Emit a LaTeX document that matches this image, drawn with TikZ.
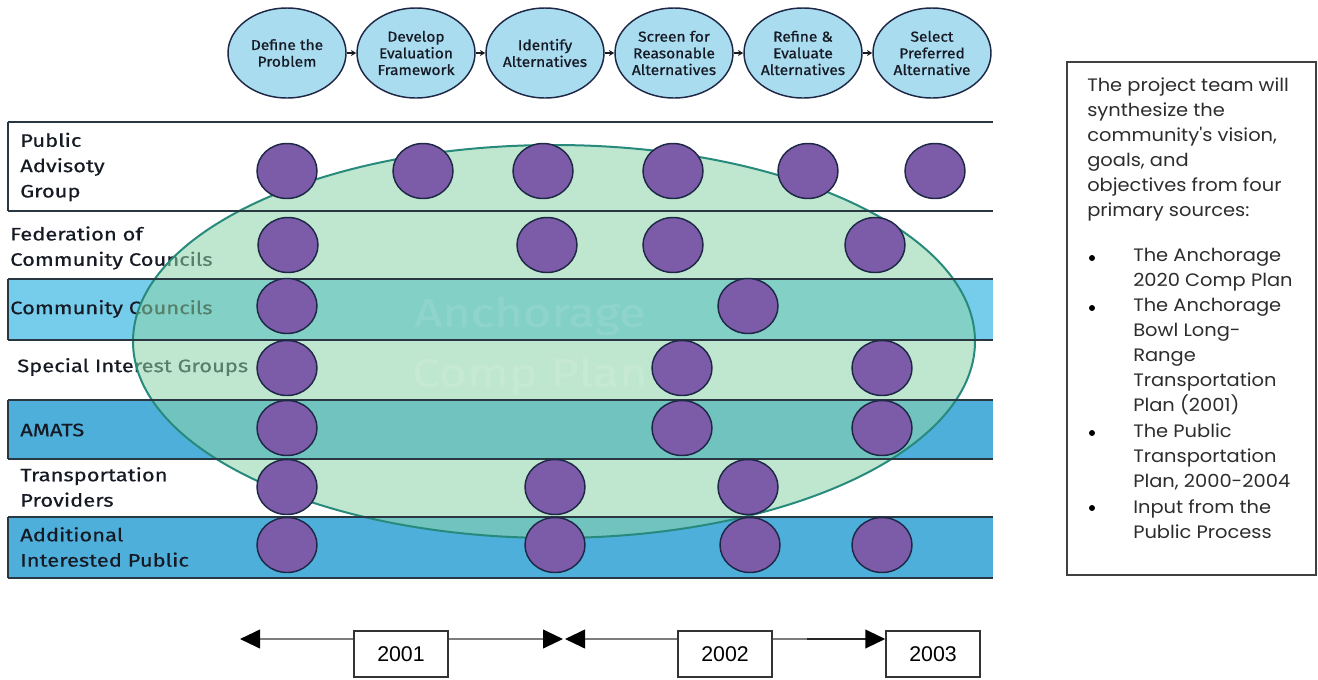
\documentclass[tikz,border=0pt]{standalone}
\usepackage{fontspec}
\setmainfont{Fira Sans}
\newfontfamily\labelfont[FakeStretch=1.22,FakeBold=0.5]{Fira Sans}
\newfontfamily\stepfont[FakeStretch=1.08,FakeBold=0.8]{Fira Sans}
\newfontfamily\gothic[FakeStretch=1.08]{Poppins}
\newfontfamily\arialfont{Liberation Sans}
\usetikzlibrary{arrows.meta,shapes.geometric}
\definecolor{stepfill}{RGB}{170,220,240}
\definecolor{bandlight}{RGB}{118,204,235}
\definecolor{banddark}{RGB}{78,176,218}
\definecolor{planfill}{RGB}{140,212,168}
\definecolor{planline}{RGB}{40,138,124}
\definecolor{dotfill}{RGB}{124,92,168}
\definecolor{dotline}{RGB}{30,40,70}
\definecolor{rowline}{RGB}{40,55,65}
\definecolor{textdark}{RGB}{22,26,36}
\definecolor{notetext}{RGB}{45,45,45}
\definecolor{tlgray}{RGB}{125,125,125}
\begin{document}
\begin{tikzpicture}[x=0.75pt,y=-0.75pt,
  stepnode/.style={ellipse, draw=dotline, line width=1.1pt, fill=stepfill,
    minimum width=88.5pt, minimum height=67.5pt, inner sep=0pt, align=center,
    font=\stepfont\fontsize{10.8}{12.5}\selectfont, text=textdark},
  stepcap/.style={inner sep=0pt, align=center, text=textdark,
    font=\stepfont\fontsize{10.8}{12.5}\selectfont},
  steparrow/.style={-{Stealth[length=4pt,width=4.5pt]}, line width=0.9pt, draw=textdark},
  dot/.style={ellipse, draw=dotline, line width=1.1pt, fill=dotfill,
    minimum width=45pt, minimum height=41.25pt, inner sep=0pt},
  rowlabel/.style={anchor=west, align=left, inner sep=0pt, text=textdark,
    font=\labelfont\fontsize{13.5}{19}\selectfont},
  rowrule/.style={draw=rowline, line width=1.1pt},
  notebody/.style={anchor=west, align=left, inner sep=0pt, text=notetext,
    font=\gothic\fontsize{13.5}{18.75}\selectfont},
  bulletdot/.style={circle, fill=black, inner sep=0pt, minimum size=4.5pt},
  yearbox/.style={draw=black!80, line width=1.1pt, fill=white, minimum width=70.5pt,
    minimum height=34.5pt, inner sep=0pt, font=\arialfont\fontsize{16}{16}\selectfont},
  tline/.style={draw=tlgray, line width=1.5pt},
  tip/.style={-{Triangle[length=15pt,width=14pt,color=black]}}
]
\useasboundingbox (0,0) rectangle (1318,679);
\fill[white] (0,0) rectangle (1318,679);

% bands
\fill[bandlight] (8,279) rectangle (993,340);
\fill[banddark] (8,400) rectangle (993,459);
\fill[banddark] (8,517) rectangle (993,578);

% row labels
\node[rowlabel] (l1) at (20,167) {Public\\Advisoty\\Group};
\node[rowlabel] (l2) at (10,248) {Federation of\\Community Councils};
\node[rowlabel] (l3) at (10,309) {Community Councils};
\node[rowlabel] (l4) at (17,367) {Special Interest Groups};
\node[rowlabel] (l5) at (20,430) {AMATS};
\node[rowlabel] (l6) at (20,487) {Transportation\\Providers};
\node[rowlabel] (l7) at (20,547) {Additional\\Interested Public};

% big plan ellipse
\node[ellipse, draw=planline, line width=1.5pt, fill=planfill, fill opacity=0.55,
  minimum width=631.5pt, minimum height=294.75pt, inner sep=0pt] (plan) at (554,341.5) {};
\node[text=white, opacity=0.1, font=\labelfont\fontsize{30}{30}\selectfont] (pt1) at (530,316) {Anchorage};
\node[text=white, opacity=0.1, font=\labelfont\fontsize{30}{30}\selectfont] (pt2) at (530,376) {Comp Plan};

% row rules
\foreach \yy in {122,211,279,340,400,459,517,578}
  \draw[rowrule] (8,\yy) -- (993,\yy);
\draw[rowrule] (8,122) -- (8,211);
\draw[rowrule] (8,279) -- (8,340);
\draw[rowrule] (8,400) -- (8,459);
\draw[rowrule] (8,517) -- (8,578);

% steps (fixed-size ellipses, captions placed on top)
\foreach \xx [count=\i] in {287,416,545,674,803,932}
  \node[stepnode] (s\i) at (\xx,53) {};
\node[stepcap] (c1) at (s1) {Define the\\Problem};
\node[stepcap] (c2) at (s2) {Develop\\Evaluation\\Framework};
\node[stepcap] (c3) at (s3) {Identify\\Alternatives};
\node[stepcap] (c4) at (s4) {Screen for\\Reasonable\\Alternatives};
\node[stepcap] (c5) at (s5) {Refine \&\\Evaluate\\Alternatives};
\node[stepcap] (c6) at (s6) {Select\\Preferred\\Alternative};
\draw[steparrow] (s1) -- (s2);
\draw[steparrow] (s2) -- (s3);
\draw[steparrow] (s3) -- (s4);
\draw[steparrow] (s4) -- (s5);
\draw[steparrow] (s5) -- (s6);

% participation dots
\foreach \xx [count=\i] in {287,423,543,673,808,935} \node[dot] (da\i) at (\xx,171) {};
\foreach \xx [count=\i] in {288,547,673,875} \node[dot] (db\i) at (\xx,245) {};
\foreach \xx [count=\i] in {287,748} \node[dot] (dc\i) at (\xx,306) {};
\foreach \xx [count=\i] in {287,682,882} \node[dot] (dd\i) at (\xx,368) {};
\foreach \xx [count=\i] in {287,682,882} \node[dot] (de\i) at (\xx,428) {};
\foreach \xx [count=\i] in {287,555,748} \node[dot] (df\i) at (\xx,487) {};
\foreach \xx [count=\i] in {287,555,750,882} \node[dot] (dg\i) at (\xx,545) {};

% note box
\node[draw=black!75, line width=1.3pt, minimum width=186.75pt, minimum height=384.75pt,
  inner sep=0pt] (note) at (1191.5,318.5) {};
\node[notebody] (n0) at (1087,149.5) {The project team will\\synthesize the\\community's vision,\\goals, and\\objectives from four\\primary sources:};
\node[notebody] (n1) at (1133,269.5) {The Anchorage\\2020 Comp Plan};
\node[notebody] (n2) at (1133,357) {The Anchorage\\Bowl Long-\\Range\\Transportation\\Plan (2001)};
\node[notebody] (n3) at (1133,457) {The Public\\Transportation\\Plan, 2000-2004};
\node[notebody] (n4) at (1133,519.5) {Input from the\\Public Process};
\node[bulletdot] (b1) at (1092,258) {};
\node[bulletdot] (b2) at (1092,308) {};
\node[bulletdot] (b3) at (1092,433) {};
\node[bulletdot] (b4) at (1092,508) {};

% timeline
\node[yearbox] (y1) at (401,654) {2001};
\node[yearbox] (y2) at (725,654) {2002};
\node[yearbox] (y3) at (933,654) {2003};
\coordinate (tl) at (240,639);
\coordinate (m1) at (563,639);
\coordinate (m2) at (565,639);
\coordinate (brk) at (807,639);
\draw[tline, tip] (y1.west |- tl) -- (tl);
\draw[tline, tip] (y1.east |- m1) -- (m1);
\draw[tline, tip] (y2.west |- m2) -- (m2);
\draw[draw=tlgray, line width=0.9pt] (y2.east |- brk) -- (brk);
\draw[draw=black!85, line width=1.5pt, tip] (brk) -- (y3.west |- brk);
\end{tikzpicture}
\end{document}
